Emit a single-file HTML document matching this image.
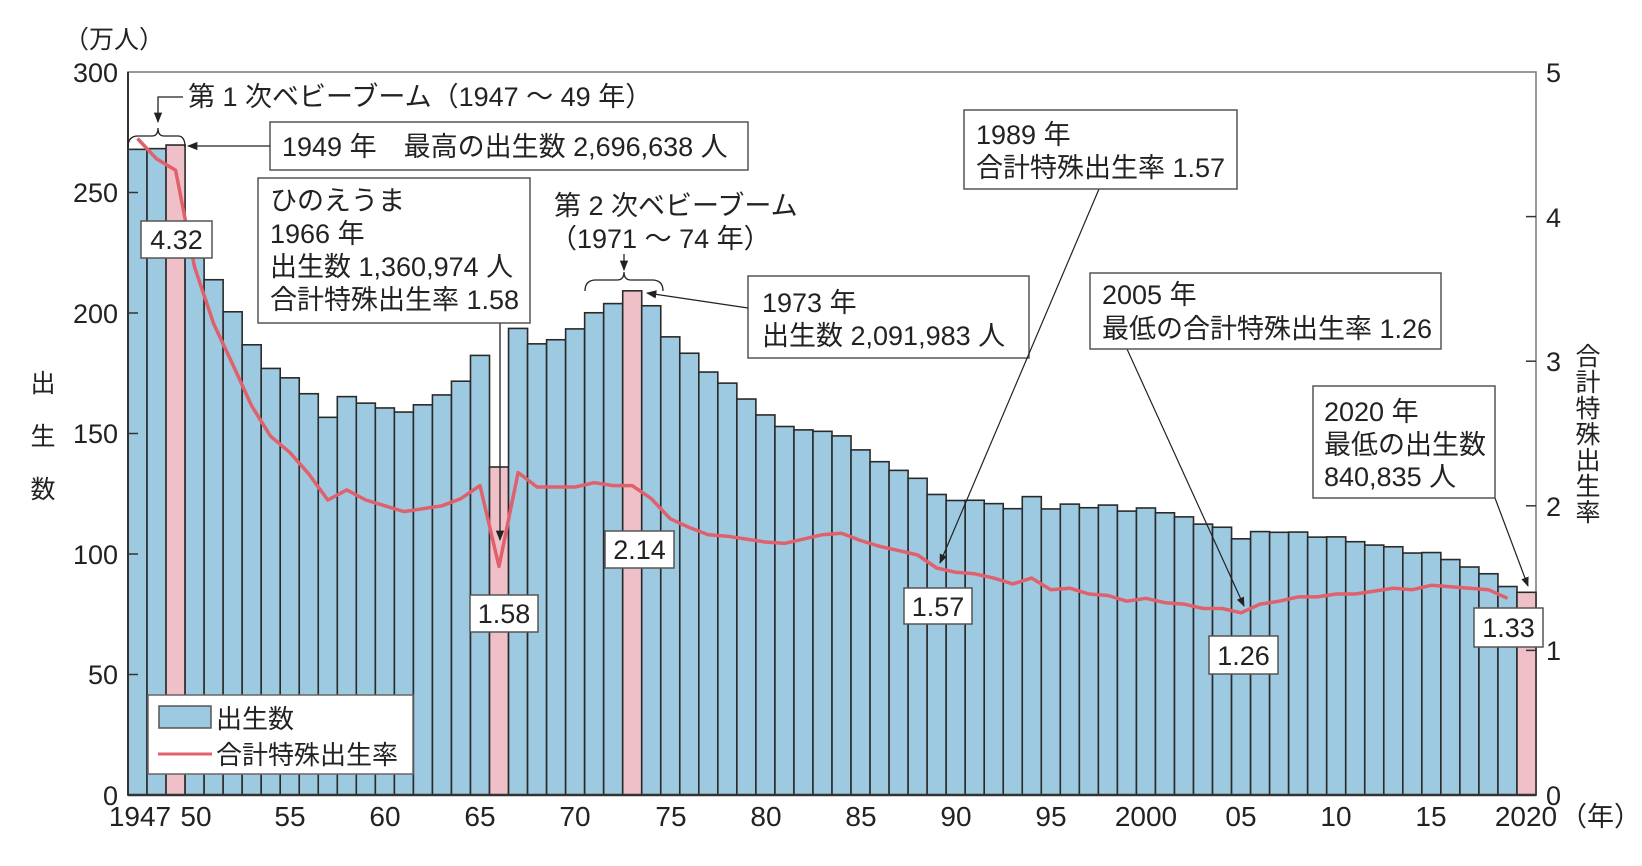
<!DOCTYPE html>
<html><head><meta charset="utf-8"><style>
html,body{margin:0;padding:0;background:#fff;}
svg{display:block;}
text{font-family:"Liberation Sans","Noto Sans CJK JP",sans-serif;fill:#222;}
</style></head><body>
<svg id="c" width="1642" height="866" viewBox="0 0 1642 866" xmlns="http://www.w3.org/2000/svg">
<defs><marker id="ah" viewBox="0 0 10 10" refX="9" refY="5" markerWidth="8" markerHeight="8" orient="auto-start-reverse"><path d="M0,1 L10,5 L0,9 z" fill="#222"/></marker></defs>
<rect x="128" y="72" width="1408" height="723" fill="none" stroke="#777" stroke-width="1.5"/>
<g id="bars"></g>
<polyline id="tfr" fill="none" stroke="#e0606c" stroke-width="3.5" stroke-linejoin="round"/>
<line x1="128" y1="72" x2="128" y2="795" stroke="#333" stroke-width="2"/>
<line x1="128" y1="795" x2="1536" y2="795" stroke="#333" stroke-width="2.5"/>
<g stroke="#333" stroke-width="1.5">
<line x1="128" y1="192.5" x2="138" y2="192.5"/><line x1="128" y1="313" x2="138" y2="313"/><line x1="128" y1="433.5" x2="138" y2="433.5"/><line x1="128" y1="554" x2="138" y2="554"/><line x1="128" y1="674.5" x2="138" y2="674.5"/>
<line x1="1526" y1="216.6" x2="1536" y2="216.6"/><line x1="1526" y1="361.2" x2="1536" y2="361.2"/><line x1="1526" y1="505.8" x2="1536" y2="505.8"/><line x1="1526" y1="650.4" x2="1536" y2="650.4"/>
</g>
<g font-size="27" text-anchor="end">
<text x="118" y="82">300</text><text x="118" y="202">250</text><text x="118" y="323">200</text><text x="118" y="443">150</text><text x="118" y="564">100</text><text x="118" y="684">50</text><text x="118" y="805">0</text>
</g>
<g font-size="27">
<text x="1546" y="82">5</text><text x="1546" y="227">4</text><text x="1546" y="371">3</text><text x="1546" y="516">2</text><text x="1546" y="660">1</text><text x="1546" y="805">0</text>
</g>
<text x="64" y="48" font-size="25">（万人）</text>
<g font-size="25" text-anchor="middle"><text x="43" y="392">出</text><text x="43" y="445">生</text><text x="43" y="498">数</text></g>
<g font-size="25" text-anchor="middle"><text x="1588" y="365">合</text><text x="1588" y="391">計</text><text x="1588" y="417">特</text><text x="1588" y="443">殊</text><text x="1588" y="469">出</text><text x="1588" y="495">生</text><text x="1588" y="521">率</text></g>
<g font-size="28" text-anchor="middle">
<text x="140" y="826">1947</text><text x="196" y="826">50</text><text x="290" y="826">55</text><text x="385" y="826">60</text><text x="480" y="826">65</text><text x="575" y="826">70</text><text x="671" y="826">75</text><text x="766" y="826">80</text><text x="861" y="826">85</text><text x="956" y="826">90</text><text x="1051" y="826">95</text><text x="1146" y="826">2000</text><text x="1241" y="826">05</text><text x="1336" y="826">10</text><text x="1431" y="826">15</text><text x="1526" y="826">2020</text>
</g>
<text x="1560" y="826" font-size="27">（年）</text>

<!-- legend -->
<rect x="148" y="695" width="265" height="79" fill="#fff" stroke="#666" stroke-width="1.5"/>
<rect x="159" y="706" width="52" height="22" fill="#9ecae1" stroke="#555" stroke-width="1.5"/>
<text x="216" y="728" font-size="26">出生数</text>
<line x1="158" y1="754" x2="212" y2="754" stroke="#e0606c" stroke-width="3"/>
<text x="216" y="764" font-size="26">合計特殊出生率</text>

<!-- first baby boom -->
<text x="188" y="106" font-size="27">第 1 次ベビーブーム（1947 ～ 49 年）</text>
<polyline points="183,97 158,97 158,122" fill="none" stroke="#222" stroke-width="1.3" marker-end="url(#ah)"/>
<path d="M128,147 Q128,136 138,136 L152,136 Q158,136 158,128 Q158,136 164,136 L178,136 Q185,136 185,147" fill="none" stroke="#222" stroke-width="1.3"/>
<rect x="270" y="122" width="478" height="48" fill="#fff" stroke="#555" stroke-width="1.5"/>
<text x="282" y="156" font-size="27">1949 年　最高の出生数 2,696,638 人</text>
<line x1="270" y1="146" x2="188" y2="146" stroke="#222" stroke-width="1.3" marker-end="url(#ah)"/>

<!-- hinoeuma -->
<line x1="500" y1="323" x2="500" y2="540" stroke="#222" stroke-width="1.3" marker-end="url(#ah)"/>
<rect x="258" y="178" width="272" height="145" fill="#fff" stroke="#555" stroke-width="1.5"/>
<g font-size="27"><text x="270" y="210">ひのえうま</text><text x="270" y="243">1966 年</text><text x="270" y="276">出生数 1,360,974 人</text><text x="270" y="309">合計特殊出生率 1.58</text></g>

<!-- second baby boom -->
<text x="554" y="215" font-size="27">第 2 次ベビーブーム</text>
<text x="550" y="248" font-size="27">（1971 ～ 74 年）</text>
<line x1="624" y1="254" x2="624" y2="270" stroke="#222" stroke-width="1.3" marker-end="url(#ah)"/>
<path d="M585,291 Q585,280 596,280 L617,280 Q624,280 624,272 Q624,280 631,280 L652,280 Q663,280 663,291" fill="none" stroke="#222" stroke-width="1.3"/>
<rect x="748" y="276" width="281" height="82" fill="#fff" stroke="#555" stroke-width="1.5"/>
<g font-size="27"><text x="762" y="312">1973 年</text><text x="762" y="345">出生数 2,091,983 人</text></g>
<line x1="748" y1="308" x2="647" y2="293" stroke="#222" stroke-width="1.3" marker-end="url(#ah)"/>

<!-- 1989 -->
<line x1="1099" y1="189" x2="940" y2="563" stroke="#222" stroke-width="1.2" marker-end="url(#ah)"/>
<rect x="964" y="110" width="273" height="79" fill="#fff" stroke="#555" stroke-width="1.5"/>
<g font-size="27"><text x="976" y="144">1989 年</text><text x="976" y="177">合計特殊出生率 1.57</text></g>
<!-- 2005 -->
<line x1="1127" y1="349" x2="1244" y2="606" stroke="#222" stroke-width="1.2" marker-end="url(#ah)"/>
<rect x="1090" y="273" width="351" height="76" fill="#fff" stroke="#555" stroke-width="1.5"/>
<g font-size="27"><text x="1102" y="304">2005 年</text><text x="1102" y="338">最低の合計特殊出生率 1.26</text></g>
<!-- 2020 -->
<line x1="1495" y1="498" x2="1528" y2="586" stroke="#222" stroke-width="1.2" marker-end="url(#ah)"/>
<rect x="1313" y="386" width="182" height="112" fill="#fff" stroke="#555" stroke-width="1.5"/>
<g font-size="27"><text x="1324" y="421">2020 年</text><text x="1324" y="454">最低の出生数</text><text x="1324" y="486">840,835 人</text></g>

<!-- TFR value boxes -->
<g font-size="27" text-anchor="middle">
<rect x="141" y="221" width="71" height="37" fill="#fff" stroke="#555" stroke-width="1.5"/><text x="176.5" y="249">4.32</text>
<rect x="470" y="595" width="68" height="37" fill="#fff" stroke="#555" stroke-width="1.5"/><text x="504" y="623">1.58</text>
<rect x="605" y="531" width="69" height="37" fill="#fff" stroke="#555" stroke-width="1.5"/><text x="639.5" y="559">2.14</text>
<rect x="904" y="588" width="68" height="36" fill="#fff" stroke="#555" stroke-width="1.5"/><text x="938" y="616">1.57</text>
<rect x="1209" y="636" width="69" height="38" fill="#fff" stroke="#555" stroke-width="1.5"/><text x="1243.5" y="665">1.26</text>
<rect x="1474" y="608" width="69" height="39" fill="#fff" stroke="#555" stroke-width="1.5"/><text x="1508.5" y="637">1.33</text>
</g>
</svg>
<script>
var births=[267.9,268.2,269.7,233.8,213.8,200.5,186.8,177.0,173.1,166.5,156.7,165.3,162.6,160.6,158.9,161.9,166.0,171.7,182.4,136.1,193.6,187.2,188.9,193.4,200.1,203.9,209.2,203.0,190.1,183.3,175.5,170.9,164.3,157.7,152.9,151.5,150.9,149.0,143.2,138.3,134.7,131.4,124.7,122.2,122.3,120.9,118.8,123.8,118.7,120.7,119.2,120.3,117.8,119.1,117.1,115.4,112.4,111.1,106.3,109.3,109.0,109.1,107.0,107.1,105.1,103.7,103.0,100.4,100.6,97.7,94.6,91.8,86.5,84.1];
var tfr=[4.54,4.40,4.32,3.65,3.26,2.98,2.69,2.48,2.37,2.22,2.04,2.11,2.04,2.00,1.96,1.98,2.00,2.05,2.14,1.58,2.23,2.13,2.13,2.13,2.16,2.14,2.14,2.05,1.91,1.85,1.80,1.79,1.77,1.75,1.74,1.77,1.80,1.81,1.76,1.72,1.69,1.66,1.57,1.54,1.53,1.50,1.46,1.50,1.42,1.43,1.39,1.38,1.34,1.36,1.33,1.32,1.29,1.29,1.26,1.32,1.34,1.37,1.37,1.39,1.39,1.41,1.43,1.42,1.45,1.44,1.43,1.42,1.36];
var pink={2:1,19:1,26:1,73:1};
var w=1408/74,g=document.getElementById('bars'),ns='http://www.w3.org/2000/svg',pts=[];
for(var i=0;i<74;i++){var r=document.createElementNS(ns,'rect');var h=births[i]*723/300;
r.setAttribute('x',128+i*w);r.setAttribute('y',795-h);r.setAttribute('width',w);r.setAttribute('height',h);
r.setAttribute('fill',pink[i]?'#f0c0c8':'#9ecae1');r.setAttribute('stroke','#2a2a2a');r.setAttribute('stroke-width','1.6');g.appendChild(r);}
for(var j=0;j<tfr.length;j++){pts.push((128+j*w+w/2).toFixed(1)+','+(795-tfr[j]*144.6).toFixed(1));}
document.getElementById('tfr').setAttribute('points',pts.join(' '));
</script>
</body></html>
